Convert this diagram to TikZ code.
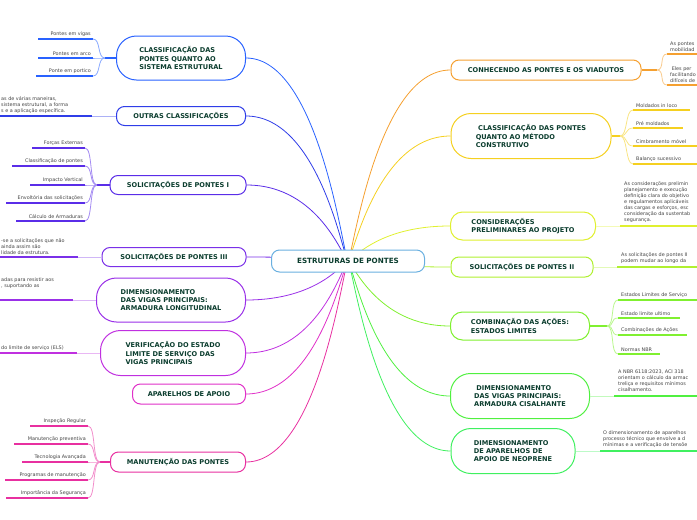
\documentclass[tikz,border=0pt]{standalone}
\usepackage{fontspec}
\setmainfont{DejaVu Sans}
\begin{document}
\definecolor{tc}{HTML}{0B3D2E}
\definecolor{lt}{HTML}{444444}
\definecolor{cA}{HTML}{2962FF}\definecolor{cB}{HTML}{2F3DE8}\definecolor{cC}{HTML}{5A2DE8}
\definecolor{cD}{HTML}{7A30E8}\definecolor{cE}{HTML}{9A30E8}\definecolor{cF}{HTML}{C030E0}
\definecolor{cG}{HTML}{E030C8}\definecolor{cH}{HTML}{E830A0}
\definecolor{rA}{HTML}{F5A030}\definecolor{rB}{HTML}{F5D020}\definecolor{rC}{HTML}{E0F030}
\definecolor{rD}{HTML}{B0F030}\definecolor{rE}{HTML}{80F030}\definecolor{rF}{HTML}{50F040}
\definecolor{rG}{HTML}{40F060}\definecolor{cen}{HTML}{6AB0E0}
\begin{tikzpicture}[x=1pt,y=-1pt,
 topic/.style={draw=#1,line width=1pt,fill=white,rounded corners=11pt,inner sep=2pt,
   font=\fontsize{6.6}{8.2}\selectfont\bfseries,text=tc,align=left},
 lt/.style={font=\fontsize{4.9}{6.1}\selectfont,text=lt,inner sep=1pt,align=left}]
\useasboundingbox (0,0) rectangle (697,520);
\clip (0,0) rectangle (697,520);
\newcommand\LL[6]{%
 \coordinate (#1) at (#3,#4); \draw[#5,line width=1.3pt] (#2,#4) -- (#1);
 \node[lt,anchor=south east] at ([xshift=-1pt,yshift=1pt]#1) {#6};}
\newcommand\RL[6]{%
 \coordinate (#1) at (#2,#4); \draw[#5,line width=1.3pt] (#1) -- (#3,#4);
 \node[lt,anchor=south west] at ([xshift=2pt,yshift=1pt]#1) {#6};}
\newcommand\lc[3]{\draw[#3!55,line width=0.8pt] (#1) .. controls +(-8,0) and +(8,0) .. (#2);}
\newcommand\rc[3]{\draw[#3!55,line width=0.8pt] (#1) .. controls +(8,0) and +(-8,0) .. (#2);}

% left topics
\node[topic=cA,minimum width=129pt,minimum height=44pt,rounded corners=20pt] (L1) at (181,58) {CLASSIFICAÇÃO DAS\\PONTES QUANTO AO\\SISTEMA ESTRUTURAL};
\node[topic=cB,minimum width=129pt,minimum height=19pt,rounded corners=8pt] (L2) at (181,116) {OUTRAS CLASSIFICAÇÕES};
\node[topic=cC,minimum width=136pt,minimum height=19pt,rounded corners=8pt] (L3) at (178,185) {SOLICITAÇÕES DE PONTES I};
\node[topic=cD,minimum width=144pt,minimum height=19pt,rounded corners=8pt] (L4) at (174,257) {SOLICITAÇÕES DE PONTES III};
\node[topic=cE,minimum width=149pt,minimum height=44pt,rounded corners=20pt] (L5) at (171,300) {DIMENSIONAMENTO\\DAS VIGAS PRINCIPAIS:\\ARMADURA LONGITUDINAL};
\node[topic=cF,minimum width=145pt,minimum height=45pt,rounded corners=20pt] (L6) at (173,353) {VERIFICAÇÃO DO ESTADO\\LIMITE DE SERVIÇO DAS\\VIGAS PRINCIPAIS};
\node[topic=cG,minimum width=113pt,minimum height=20pt,rounded corners=8pt] (L7) at (189,394) {APARELHOS DE APOIO};
\node[topic=cH,minimum width=135pt,minimum height=20pt,rounded corners=8pt] (L8) at (178,462) {MANUTENÇÃO DAS PONTES};

% right topics
\node[topic=rA,minimum width=190pt,minimum height=20pt,rounded corners=8pt] (R1) at (546,70) {CONHECENDO AS PONTES E OS VIADUTOS};
\node[topic=rB,minimum width=160pt,minimum height=45pt,rounded corners=20pt] (R2) at (531,136) {\ CLASSIFICAÇÃO DAS PONTES\\QUANTO AO MÉTODO\\CONSTRUTIVO};
\node[topic=rC,minimum width=145pt,minimum height=28pt,rounded corners=12pt] (R3) at (523,226) {CONSIDERAÇÕES\\PRELIMINARES AO PROJETO};
\node[topic=rD,minimum width=142pt,minimum height=20pt,rounded corners=8pt] (R4) at (522,267) {SOLICITAÇÕES DE PONTES II};
\node[topic=rE,minimum width=139pt,minimum height=28pt,rounded corners=12pt] (R5) at (520,326) {COMBINAÇÃO DAS AÇÕES:\\ESTADOS LIMITES};
\node[topic=rF,minimum width=139pt,minimum height=45pt,rounded corners=20pt] (R6) at (520,396) {\ DIMENSIONAMENTO\\DAS VIGAS PRINCIPAIS:\\ARMADURA CISALHANTE};
\node[topic=rG,minimum width=124pt,minimum height=45pt,rounded corners=20pt] (R7) at (513,451) {DIMENSIONAMENTO\\DE APARELHOS DE\\APOIO DE NEOPRENE};

\coordinate (cc) at (348,261);
\foreach \n/\col in {L1/cA,L2/cB,L3/cC,L4/cD,L5/cE,L6/cF,L7/cG,L8/cH}{
 \path (\n.east) coordinate (t);
 \draw[\col,line width=0.8pt] (cc) .. controls (344,261) and (320,0|-t) .. (\n.east);}
\foreach \n/\col in {R1/rA,R2/rB,R3/rC,R4/rD,R5/rE,R6/rF,R7/rG}{
 \path (\n.west) coordinate (t);
 \draw[\col,line width=0.8pt] (cc) .. controls (352,261) and (376,0|-t) .. (\n.west);}
\node[topic=cen,rounded corners=8pt,minimum width=153pt,minimum height=22pt,font=\fontsize{7.2}{8}\selectfont\bfseries,align=center] (c) at (cc) {ESTRUTURAS DE PONTES};

% left leaves
\coordinate (f1) at (105,58); \draw[cA,line width=1.3pt] (f1) -- (L1.west);
\LL{a1}{38}{93}{39}{cA}{Pontes em vigas}\lc{f1}{a1}{cA}
\LL{a2}{38}{93}{58}{cA}{Pontes em arco}\lc{f1}{a2}{cA}
\LL{a3}{36}{93}{76}{cA}{Ponte em portico}\lc{f1}{a3}{cA}

\coordinate (b1) at (92,116); \draw[cB,line width=1.3pt] (0,116) -- (b1); \draw[cB!40,line width=1pt] (b1) -- (L2.west);
\node[lt,anchor=south west] at (0,115) {as de várias maneiras,\\sistema estrutural, a forma\\s e a aplicação específica.};

\coordinate (f3) at (97,185); \draw[cC,line width=1.3pt] (f3) -- (L3.west);
\LL{s1}{32}{85}{148}{cC}{Forças Externas}\lc{f3}{s1}{cC}
\LL{s2}{12}{85}{166}{cC}{Classificação de pontes}\lc{f3}{s2}{cC}
\LL{s3}{30}{85}{185}{cC}{Impacto Vertical}\lc{f3}{s3}{cC}
\LL{s4}{6}{85}{203}{cC}{Envoltória das solicitações}\lc{f3}{s4}{cC}
\LL{s5}{16}{85}{221}{cC}{Cálculo de Armaduras}\lc{f3}{s5}{cC}

\coordinate (d1) at (78,257); \draw[cD,line width=1.3pt] (0,257) -- (d1); \draw[cD!35,line width=1pt] (d1) -- (L4.west);
\node[lt,anchor=south west] at (0,256) {-se a solicitações que não\\ ainda assim são\\lidade da estrutura.};
\coordinate (e1) at (73,300); \draw[cE,line width=1.3pt] (0,300) -- (e1); \draw[cE!35,line width=1pt] (e1) -- (L5.west);
\node[lt,anchor=south west] at (0,290) {adas para resistir aos\\, suportando as};
\coordinate (g1) at (77,353); \draw[cF,line width=1.3pt] (0,353) -- (g1); \draw[cF!35,line width=1pt] (g1) -- (L6.west);
\node[lt,anchor=south west] at (0,352) {do limite de serviço (ELS)};

\coordinate (f8) at (100,462); \draw[cH,line width=1.3pt] (f8) -- (L8.west);
\LL{m1}{30}{88}{426}{cH}{Inspeção Regular}\lc{f8}{m1}{cH}
\LL{m2}{14}{88}{444}{cH}{Manutenção preventiva}\lc{f8}{m2}{cH}
\LL{m3}{22}{88}{462}{cH}{Tecnologia Avançada}\lc{f8}{m3}{cH}
\LL{m4}{5}{88}{480}{cH}{Programas de manutenção}\lc{f8}{m4}{cH}
\LL{m5}{6}{88}{498}{cH}{Importância da Segurança}\lc{f8}{m5}{cH}

% right leaves
\coordinate (g1r) at (657,70); \draw[rA,line width=1.3pt] (R1.east) -- (g1r);
\RL{k1}{667}{697}{54}{rA}{As pontes\\mobilidad}\rc{g1r}{k1}{rA}
\RL{k2}{667}{697}{85}{rA}{\ Eles per\\facilitando\\difíceis de}\rc{g1r}{k2}{rA}

\coordinate (g2) at (620,136); \draw[rB,line width=1.3pt] (R2.east) -- (g2);
\RL{p1}{633}{690}{110}{rB}{Moldados in loco}\rc{g2}{p1}{rB}
\RL{p2}{633}{683}{128}{rB}{Pré moldados}\rc{g2}{p2}{rB}
\RL{p3}{633}{697}{146}{rB}{Cimbramento móvel}\rc{g2}{p3}{rB}
\RL{p4}{633}{697}{164}{rB}{Balanço sucessivo}\rc{g2}{p4}{rB}

\coordinate (h3) at (620,226); \draw[rC!35,line width=1pt] (R3.east) -- (h3); \draw[rC,line width=1.3pt] (h3) -- (697,226);
\node[lt,anchor=south west] at (623,224) {As considerações prelimin\\planejamento e execução\\definição clara do objetivo\\e regulamentos aplicáveis\\das cargas e esforços, esc\\consideração da sustentab\\segurança.};
\coordinate (h4) at (617,267); \draw[rD!35,line width=1pt] (R4.east) -- (h4); \draw[rD,line width=1.3pt] (h4) -- (697,267);
\node[lt,anchor=south west] at (620,265) {As solicitações de pontes II\\podem mudar ao longo da};

\coordinate (g5) at (607,326); \draw[rE,line width=1.3pt] (R5.east) -- (g5);
\RL{q1}{618}{697}{300}{rE}{Estados Limites de Serviço}\rc{g5}{q1}{rE}
\RL{q2}{618}{680}{318}{rE}{Estado limite ultimo}\rc{g5}{q2}{rE}
\RL{q3}{618}{687}{335}{rE}{Combinações de Ações}\rc{g5}{q3}{rE}
\RL{q4}{618}{660}{354}{rE}{Normas NBR}\rc{g5}{q4}{rE}

\coordinate (h6) at (614,396); \draw[rF!35,line width=1pt] (R6.east) -- (h6); \draw[rF,line width=1.3pt] (h6) -- (697,396);
\node[lt,anchor=south west] at (617,393) {A NBR 6118:2023, ACI 318\\orientam o cálculo da armac\\treliça e requisitos mínimos\\cisalhamento.};
\coordinate (h7) at (600,451); \draw[rG!35,line width=1pt] (R7.east) -- (h7); \draw[rG,line width=1.3pt] (h7) -- (697,451);
\node[lt,anchor=south west] at (602,449) {O dimensionamento de aparelhos\\processo técnico que envolve a d\\mínimas e a verificação de tensõe};
\end{tikzpicture}
\end{document}
